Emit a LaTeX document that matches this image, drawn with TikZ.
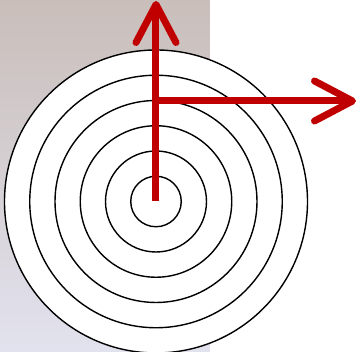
\documentclass[tikz,border=0pt]{standalone}
\usepackage{tikz}
\usetikzlibrary{arrows.meta}
\definecolor{BackTop}{RGB}{201,190,186}
\definecolor{BackBottom}{RGB}{226,226,238}
\definecolor{MarkRed}{RGB}{192,0,0}

\begin{document}
\begin{tikzpicture}[x=1pt, y=1pt,
    ring/.style={draw=black, line width=1.4pt},
    pointer/.style={MarkRed, line width=7pt,
      -{Straight Barb[length=38pt, width=40pt, round]}}]
    \useasboundingbox (0,0) rectangle (360,352);

    % Shaded backdrop on the left
    \shade[top color=BackTop, bottom color=BackBottom] (0,0) rectangle (210,352);

    % Target rings
    \coordinate (centre) at (156,150.5);
    \fill[white] (centre) circle[radius=151.5];
    \foreach \k in {1,...,6}
      \draw[ring] (centre) circle[radius=25.25*\k];

    % Red arrows
    \coordinate (elbow) at (156,251);
    \coordinate (topend) at (156,351);
    \coordinate (rightend) at (356,251);
    \draw[pointer] (centre) -- (topend);
    \draw[pointer] (elbow) -- (rightend);
\end{tikzpicture}
\end{document}
